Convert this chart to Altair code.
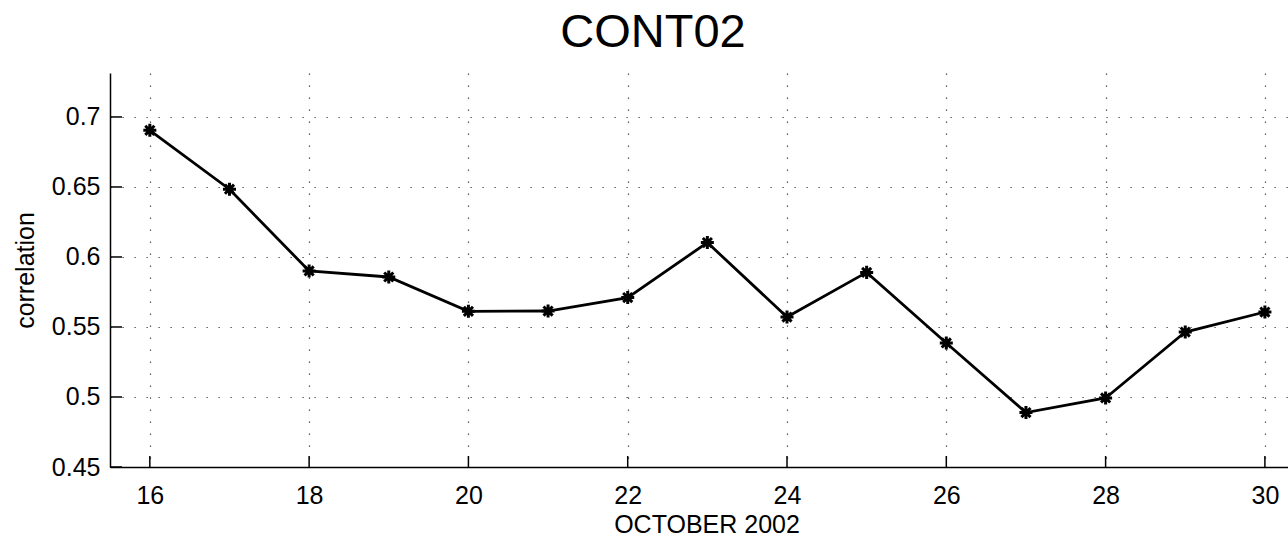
import altair as alt
import pandas as pd

# Daily correlation, October 2002
days = [16, 17, 18, 19, 20, 21, 22, 23, 24, 25, 26, 27, 28, 29, 30]
corr = [0.6905, 0.6484, 0.5900, 0.5857, 0.5612, 0.5614, 0.5710, 0.6103,
        0.5571, 0.5890, 0.5386, 0.4889, 0.4993, 0.5464, 0.5607]

x_ticks = [16, 18, 20, 22, 24, 26, 28, 30]
y_ticks = [0.45, 0.5, 0.55, 0.6, 0.65, 0.7]

FONT = "Liberation Sans"
W, H = 1178, 394

df = pd.DataFrame({"day": days, "corr": corr})
xt = pd.DataFrame({"day": x_ticks})
yt = pd.DataFrame({"corr": y_ticks})

xscale = alt.Scale(domain=[15.5, 30.29], nice=False, zero=False)
yscale = alt.Scale(domain=[0.45, 0.7314], nice=False, zero=False)

xaxis = alt.Axis(values=x_ticks, title=None, grid=True, ticks=False, tickSize=0,
                 labelPadding=16, labelFontSize=25, labelFont=FONT, labelColor="black",
                 domainColor="black", domainWidth=1.5,
                 gridColor="#333", gridDash=[1.2, 10.8], gridWidth=1.2, format="d")
yaxis = alt.Axis(values=y_ticks, title="correlation", grid=True, ticks=False, tickSize=0,
                 labelPadding=10, labelFontSize=25, labelFont=FONT, labelColor="black",
                 titleFont=FONT, titleFontSize=25, titleFontWeight="normal", titleColor="black",
                 titleX=-77, titleY=H / 2, titleAngle=-90, titleBaseline="alphabetic",
                 titleAlign="center",
                 domainColor="black", domainWidth=1.5,
                 gridColor="#333", gridDash=[1.2, 10.8], gridWidth=1.2,
                 labelExpr="format(datum.value, '.2~f')")

base = alt.Chart(df)

line = base.mark_line(color="black", strokeWidth=2.8).encode(
    x=alt.X("day:Q", scale=xscale, axis=xaxis),
    y=alt.Y("corr:Q", scale=yscale, axis=yaxis),
)

asterisk = "M-1,0L1,0M0,-1L0,1M-0.7,-0.7L0.7,0.7M-0.7,0.7L0.7,-0.7"
pts = base.mark_point(shape=asterisk, filled=False, color="black", strokeWidth=3,
                      size=170, opacity=1).encode(
    x=alt.X("day:Q", scale=xscale),
    y=alt.Y("corr:Q", scale=yscale),
)

# inward ticks along both axes
xtick_marks = alt.Chart(xt).mark_rule(color="black", strokeWidth=1.5).encode(
    x=alt.X("day:Q", scale=xscale),
    y=alt.value(H), y2=alt.value(H - 11),
)
ytick_marks = alt.Chart(yt).mark_rule(color="black", strokeWidth=1.5).encode(
    y=alt.Y("corr:Q", scale=yscale),
    x=alt.value(0), x2=alt.value(12),
)

# chart title and x-axis title
title_df = pd.DataFrame({"t": ["CONT02"]})
title = alt.Chart(title_df).mark_text(font=FONT, fontSize=47, color="black",
                                      align="center", baseline="alphabetic").encode(
    text="t:N", x=alt.value(543), y=alt.value(-26),
)
xtitle_df = pd.DataFrame({"t": ["OCTOBER 2002"]})
xtitle = alt.Chart(xtitle_df).mark_text(font=FONT, fontSize=25, color="black",
                                        align="center", baseline="alphabetic").encode(
    text="t:N", x=alt.value(597), y=alt.value(H + 66),
)

chart = alt.layer(xtick_marks, ytick_marks, line, pts, title, xtitle).properties(
    width=W, height=H,
    background="white",
    autosize=alt.AutoSizeParams(type="none"),
    padding={"left": 110, "top": 73, "right": 0, "bottom": 70},
).configure_view(stroke=None)

chart.save("out.html", embed_options={"renderer": "svg", "actions": False})
